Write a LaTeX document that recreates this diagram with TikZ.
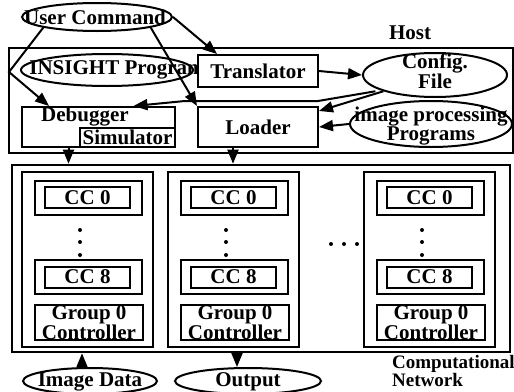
\documentclass[tikz,border=0pt]{standalone}
\usepackage{fontspec}
\setmainfont{Liberation Serif}
\usetikzlibrary{positioning, shapes.geometric, arrows.meta}

\newcommand{\GROUPWIDTH}{131}
\newcommand{\GROUPHEIGHT}{175}
\newcommand{\CCWIDTH}{107}
\newcommand{\CCHEIGHT}{34}
\newcommand{\CCINNERWIDTH}{85}
\newcommand{\CCINNERHEIGHT}{21}
\newcommand{\DOTRADIUS}{2}

\tikzset{
  box/.style={draw, line width=2pt, fill=white, inner sep=0pt},
  oval/.style={draw, ellipse, line width=2pt, inner sep=0pt},
  frame/.style={draw, line width=2.6pt, inner sep=0pt},
  arr/.style={-{Triangle[length=14pt,width=11pt]}, line width=2pt},
}

\begin{document}
\begin{tikzpicture}[x=1pt, y=-1pt, font=\fontsize{21}{15}\selectfont\bfseries]
  \useasboundingbox (0,0) rectangle (514,391);

  % host
  \node[frame, minimum width=504, minimum height=105] (host) at (261,100.5) {};
  \node (hostlabel) at (410,33) {Host};

  \node[oval, minimum width=150, minimum height=28, label={[xshift=-2pt]center:User Command}] (user) at (97,17) {};
  \node[oval, minimum width=172, minimum height=32, label={[xshift=10pt]center:INSIGHT Program}] (insight) at (107,70) {};
  \node[box, minimum width=120, minimum height=32] (translator) at (258,71) {Translator};
  \node[oval, minimum width=144, minimum height=44, label={[align=center, yshift=4pt]center:Config.\\File}] (config) at (435,75) {};
  \node[box, minimum width=120, minimum height=40] (loader) at (258,127) {Loader};
  \node[oval, minimum width=162, minimum height=46, label={[align=center, yshift=-2pt]center:image processing\\Programs}] (imgprog) at (431,124) {};
  \node[box, minimum width=153, minimum height=40,
        label={[anchor=north west, inner sep=0pt, xshift=20pt, yshift=-1pt]north west:Debugger}] (debugger) at (98.5,127) {};
  \node[box, minimum width=95, minimum height=19, anchor=south east] (simulator) at (debugger.south east) {Simulator};

  % arrows inside host
  \coordinate (bend) at (9,72);
  \coordinate (hopR) at (318,101);
  \coordinate (hopL) at (185,101);
  \draw[arr] (user.east) -- ([xshift=20pt]translator.north west);
  \draw[arr] (user.south east) -- (loader.north west);
  \draw[arr] (user.south west) -- (bend) -- ([xshift=28pt]debugger.north west);
  \draw[arr] (translator.east) -- (config.west);
  \draw[arr] (config.south west) -- ([yshift=-5pt]loader.north east);
  \draw[arr] ([xshift=-8pt]config.south west) -- (hopR) -- (hopL) -- ([xshift=35pt]debugger.north);
  \draw[arr] (imgprog.west) -- (loader.east);

  % computational network
  \node[frame, minimum width=498, minimum height=187] (network) at (261,258.5) {};
  \foreach \col/\dx in {a/0, b/146, c/342}{
    \begin{scope}[xshift=\dx]
      \node[box, line width=2.4pt, minimum width=\GROUPWIDTH, minimum height=\GROUPHEIGHT] (grp\col) at (87.5,259.5) {};
      \node[box, minimum width=\CCWIDTH, minimum height=\CCHEIGHT] (ccz\col) at (88.5,197.5) {};
      \node[box, minimum width=\CCINNERWIDTH, minimum height=\CCINNERHEIGHT] (cczin\col) at (87.5,197.5) {CC 0};
      \fill (80,230) circle (\DOTRADIUS) (80,242) circle (\DOTRADIUS) (80,255) circle (\DOTRADIUS);
      \node[box, minimum width=\CCWIDTH, minimum height=\CCHEIGHT] (cce\col) at (88.5,276.5) {};
      \node[box, minimum width=\CCINNERWIDTH, minimum height=\CCINNERHEIGHT] (ccein\col) at (87.5,277) {CC 8};
      \node[box, line width=1.5pt, minimum width=108, minimum height=35, align=center] (ctrl\col) at (89,322.5) {Group 0\\Controller};
    \end{scope}
  }
  \fill (331,244) circle (\DOTRADIUS) (344,244) circle (\DOTRADIUS) (357,244) circle (\DOTRADIUS);
  \node[anchor=north west, align=left, inner sep=0pt, font=\fontsize{19}{12}\selectfont\bfseries] (netlabel) at (392,355) {Computational\\Network};

  % host to network
  \coordinate (dbgdrop) at ([xshift=-30pt]debugger.south);
  \coordinate (lddrop) at ([xshift=-25pt]loader.south);
  \draw[arr] (dbgdrop) -- (dbgdrop |- network.north);
  \draw[arr] (lddrop) -- (lddrop |- network.north);

  % data in and out
  \node[oval, minimum width=134, minimum height=26, label={[yshift=-1pt]center:Image Data}] (imagedata) at (90,381) {};
  \node[oval, minimum width=146, minimum height=26, label={[yshift=-1pt]center:Output}] (output) at (248,381) {};
  \coordinate (imgup) at ([xshift=-8pt]imagedata.north);
  \coordinate (outdrop) at ([xshift=-11pt]output.north);
  \draw[arr] (imgup) -- (imgup |- network.south);
  \draw[arr] (outdrop |- network.south) -- (outdrop);
\end{tikzpicture}
\end{document}
